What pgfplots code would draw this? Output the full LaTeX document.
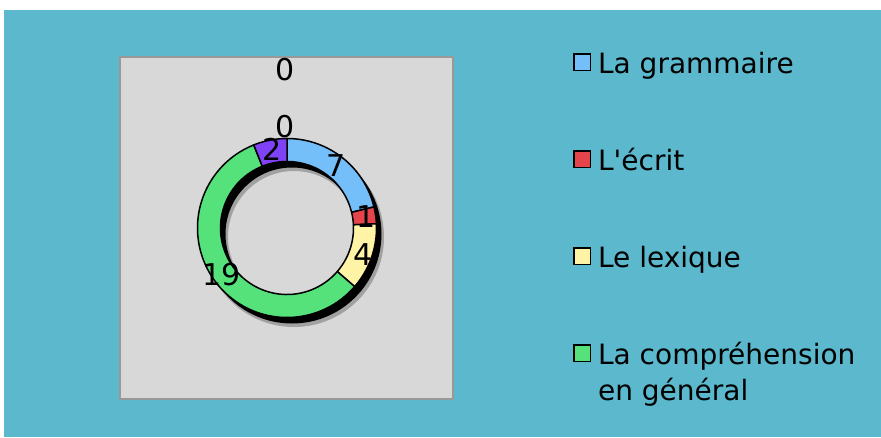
\documentclass[border=0pt]{standalone}
\usepackage{pgfplots}
\pgfplotsset{compat=1.18}
\usepackage{fontspec}
\setmainfont{DejaVu Sans}

\definecolor{bgblue}{HTML}{5BB8CD}
\definecolor{plotgrey}{HTML}{D8D8D8}
\definecolor{framegrey}{HTML}{999999}
\definecolor{cGram}{HTML}{74BEF9}
\definecolor{cEcrit}{HTML}{E5454A}
\definecolor{cLex}{HTML}{FFF3A6}
\definecolor{cComp}{HTML}{56E27B}
\definecolor{cAutre}{HTML}{7F42F5}

\newcommand{\bigtxt}{\fontsize{28}{36}\selectfont}
\newcommand{\lbltxt}{\fontsize{30}{36}\selectfont}

\begin{document}
\begin{tikzpicture}[x=1pt,y=1pt]
\path[use as bounding box, fill=white] (0,0) rectangle (881,437);
\fill[bgblue] (4,0) rectangle (881,427);
\begin{axis}[
  at={(120,38)}, anchor=south west,
  x=1pt, y=1pt,
  xmin=-167, xmax=166, ymin=-171, ymax=171,
  xtick=\empty, ytick=\empty,
  axis background/.style={fill=plotgrey},
  axis line style={draw=framegrey, line width=2pt},
  clip=false,
  legend style={at={(1.36,1.027)}, anchor=north west,
    draw=none, fill=none, inner sep=0pt,
    row sep=61pt, column sep=7pt,
    cells={anchor=base west},
    nodes={inner sep=0pt, text depth=},
    font=\bigtxt},
]
% ring values, clockwise from the top
\def\total{33}
% shadow
\fill[black, opacity=0.25, even odd rule] (axis cs:7,-9) circle[radius=90pt] (axis cs:7,-9) circle[radius=66pt];
\fill[black, even odd rule] (axis cs:5,-6) circle[radius=89.5pt] (axis cs:5,-6) circle[radius=66.5pt];

\xdef\cum{0}
\foreach \v/\c in {7/cGram, 1/cEcrit, 4/cLex, 19/cComp, 2/cAutre}{
  \pgfmathsetmacro\sa{90-360*\cum/\total}
  \pgfmathsetmacro\ea{90-360*(\cum+\v)/\total}
  \edef\tmp{\noexpand\filldraw[fill=\c, draw=black, line width=1.5pt, line join=round]
    ([shift={(\sa:89.5pt)}]axis cs:0,0) arc[start angle=\sa, end angle=\ea, radius=89.5pt]
    -- ([shift={(\ea:66.5pt)}]axis cs:0,0) arc[start angle=\ea, end angle=\sa, radius=66.5pt] -- cycle;}
  \tmp
  \pgfmathsetmacro\nc{\cum+\v}
  \xdef\cum{\nc}
}
\xdef\cum{0}
\foreach \v in {7, 1, 4, 19, 2}{
  \pgfmathsetmacro\ma{90-360*(\cum+\v/2)/\total}
  \edef\tmp{\noexpand\node[font=\noexpand\lbltxt] at ([shift={(\ma:80pt)}]axis cs:0,0) {\v};}
  \tmp
  \pgfmathsetmacro\nc{\cum+\v}
  \xdef\cum{\nc}
}
\node[font=\lbltxt] at (axis cs:-2,101) {0};
\node[font=\lbltxt] at (axis cs:-2,158) {0};

\addlegendimage{legend image code/.code={\draw[black,line width=1.5pt,fill=cGram] (0.75pt,2.75pt) rectangle (17.25pt,19.25pt);}}
\addlegendentry{La grammaire\strut}
\addlegendimage{legend image code/.code={\draw[black,line width=1.5pt,fill=cEcrit] (0.75pt,2.75pt) rectangle (17.25pt,19.25pt);}}
\addlegendentry{L\textquotesingle écrit\strut}
\addlegendimage{legend image code/.code={\draw[black,line width=1.5pt,fill=cLex] (0.75pt,2.75pt) rectangle (17.25pt,19.25pt);}}
\addlegendentry{Le lexique\strut}
\addlegendimage{legend image code/.code={\draw[black,line width=1.5pt,fill=cComp] (0.75pt,2.75pt) rectangle (17.25pt,19.25pt);}}
\addlegendentry{\begin{tabular}[t]{@{}l@{}}La compréhension\\en général\end{tabular}}
\end{axis}
\end{tikzpicture}
\end{document}
